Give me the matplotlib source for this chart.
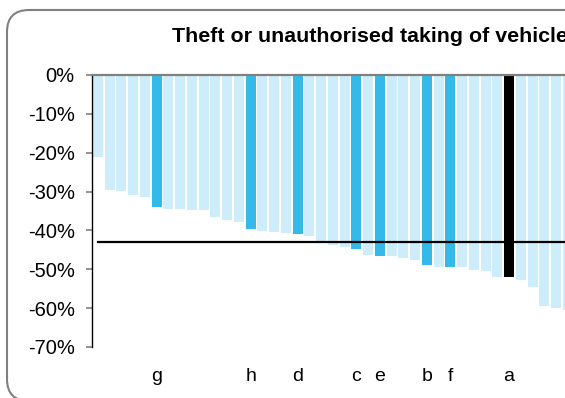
import numpy as np
import matplotlib
matplotlib.use("Agg")
import matplotlib.pyplot as plt
import matplotlib.patches as mpatches
from matplotlib.transforms import IdentityTransform

# % change per force, sorted (chart is cropped on the right)
values = [-21.1, -29.6, -29.9, -30.9, -31.4, -34.0, -34.5, -34.5, -34.7, -34.7,
          -36.5, -37.3, -37.8, -39.6, -40.1, -40.4, -40.7, -40.9, -41.4, -42.8,
          -43.8, -44.2, -44.9, -46.2, -46.5, -46.7, -47.0, -47.5, -48.8, -49.3,
          -49.3, -49.3, -50.1, -50.4, -51.9, -51.9, -52.7, -54.5, -59.4, -59.9,
          -60.5]
# highlighted bars: position -> label
highlight_pos = [5, 13, 17, 22, 24, 28, 30, 35]
highlight_lab = ['g', 'h', 'd', 'c', 'e', 'b', 'f', 'a']
selected = 'a'
average = -43.0
yticks = [0, -10, -20, -30, -40, -50, -60, -70]
title = "Theft or unauthorised taking of vehicles"

light = '#CCEDF9'
mid = '#33BAE9'

plt.rcParams['font.family'] = ['Liberation Sans', 'DejaVu Sans']

fig = plt.figure(figsize=(5.65, 3.98), dpi=100)
W, H = 565, 398
pitch = 11.75
n = len(values)
ax = fig.add_axes([92 / W, 1 - 347 / H, n * pitch / W, 272 / H])

colors = [light] * n
for p, lab in zip(highlight_pos, highlight_lab):
    colors[p] = 'black' if lab == selected else mid

x = np.arange(n)
ax.bar(x, values, width=0.85, color=colors, zorder=2)
ax.plot(x, [average] * n, color='black', lw=1.6, zorder=3)

ax.set_xlim(-0.5, n - 0.5)
ax.set_ylim(-70, 0)
ax.set_yticks(yticks)
ax.set_yticklabels([f'{v}%' for v in yticks])
ax.set_xticks(highlight_pos)
ax.set_xticklabels(highlight_lab)

ax.tick_params(axis='y', labelsize=14.5, length=4.5, width=1.2, color='#808080', pad=8)
ax.tick_params(axis='x', labelsize=14, length=0, pad=15)

for s in ['right', 'bottom']:
    ax.spines[s].set_visible(False)
ax.spines['top'].set_color('#808080')
ax.spines['top'].set_linewidth(1.6)
ax.spines['top'].set_zorder(4)
ax.spines['left'].set_color('black')
ax.spines['left'].set_linewidth(1.0)

# title runs off the right edge, as in the cropped original
fig.text(172 / W, 1 - 36 / H, title, fontsize=15.4, fontweight='bold', ha='left', va='center')

frame = mpatches.FancyBboxPatch((7, -3), 620, 391, boxstyle='round,pad=0,rounding_size=22',
                                transform=IdentityTransform(), fill=False,
                                edgecolor='#808080', lw=1.5)
fig.patches.append(frame)

fig.savefig('out.png', dpi=100)
